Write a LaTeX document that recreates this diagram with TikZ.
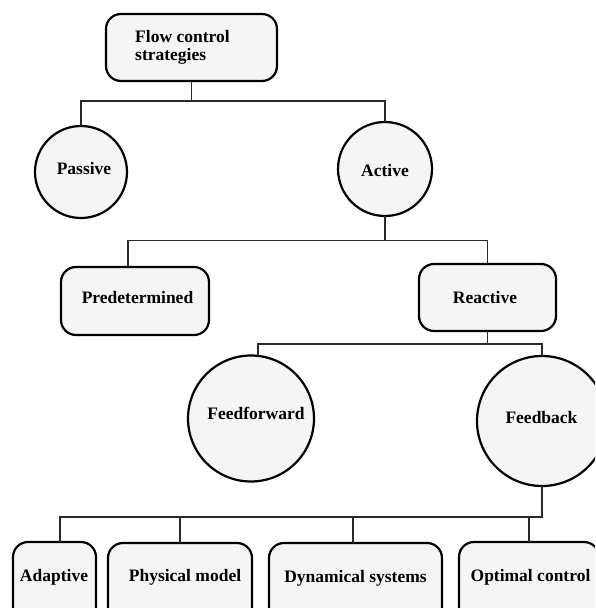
\documentclass[tikz,border=0pt]{standalone}
\usepackage{fontspec}
\setmainfont{Liberation Serif}
\definecolor{boxfill}{HTML}{F5F5F5}
\definecolor{linecol}{HTML}{2A2A2A}
\tikzset{
  shapebase/.style={draw=black, line width=2.2pt, fill=boxfill, inner sep=0pt, outer sep=0pt},
  rbox/.style={shapebase, rectangle, rounded corners=15pt},
  cnode/.style={shapebase, circle},
  lbl/.style={anchor=base, inner sep=0pt, font=\fontsize{17.5}{18.5}\selectfont\bfseries, text=black},
  conn/.style={draw=linecol, line width=1.4pt}
}
\begin{document}
\begin{tikzpicture}[x=1pt,y=-1pt]
\useasboundingbox (0,0) rectangle (595,608);
\clip (0,0) rectangle (595,608);
% shapes
\node[rbox, minimum width=171pt, minimum height=67pt] (root) at (191.5,47.5) {};
\node[cnode, minimum size=92pt] (passive) at (81,172) {};
\node[cnode, minimum size=94pt] (active) at (385,169) {};
\node[rbox, minimum width=148pt, minimum height=68pt] (pred) at (135,301) {};
\node[rbox, minimum width=137pt, minimum height=67pt] (react) at (487.5,297.5) {};
\node[cnode, minimum size=126pt] (ff) at (251,418.5) {};
\node[cnode, minimum size=130pt] (fb) at (542,421) {};
\node[rbox, minimum width=83pt, minimum height=80pt] (adapt) at (54.5,582) {};
\node[rbox, minimum width=144pt, minimum height=80pt] (phys) at (180,583) {};
\node[rbox, minimum width=173pt, minimum height=80pt] (dyn) at (355.5,583) {};
\node[rbox, minimum width=140pt, minimum height=80pt] (opt) at (529,582) {};
% bus levels
\coordinate (b1) at (0,101);
\coordinate (b2) at (0,240.5);
\coordinate (b3) at (0,344);
\coordinate (b4) at (0,517);
% connectors
\draw[conn] (root.south) -- (root.south |- b1) -| (passive.north);
\draw[conn] (root.south |- b1) -| (active.north);
\draw[conn] (active.south) -- (active.south |- b2) -| ([xshift=-7pt]pred.north);
\draw[conn] (active.south |- b2) -| (react.north);
\draw[conn] (react.south) -- (react.south |- b3) -| ([xshift=7pt]ff.north);
\draw[conn] (react.south |- b3) -| (fb.north);
\draw[conn] (fb.south) -- (fb.south |- b4) -| ([xshift=5.5pt]adapt.north);
\draw[conn] (fb.south |- b4) -| (phys.north);
\draw[conn] (fb.south |- b4) -| ([xshift=-2.5pt]dyn.north);
\draw[conn] (fb.south |- b4) -| (opt.north);
% labels
\node[lbl, anchor=base west] (t1) at (135,42.3) {Flow control};
\node[lbl, anchor=base west] (t2) at (135,60.7) {strategies};
\node[lbl] (tpassive) at (84,174) {Passive};
\node[lbl] (tactive) at (385,176) {Active};
\node[lbl] (tpred) at (137.5,303) {Predetermined};
\node[lbl] (treact) at (485,303) {Reactive};
\node[lbl] (tff) at (256,419) {Feedforward};
\node[lbl] (tfb) at (541.5,423) {Feedback};
\node[lbl] (tadapt) at (54,581) {Adaptive};
\node[lbl] (tphys) at (185,581.5) {Physical model};
\node[lbl] (tdyn) at (355.5,582) {Dynamical systems};
\node[lbl] (topt) at (530.5,581.5) {Optimal control};
\end{tikzpicture}
\end{document}
